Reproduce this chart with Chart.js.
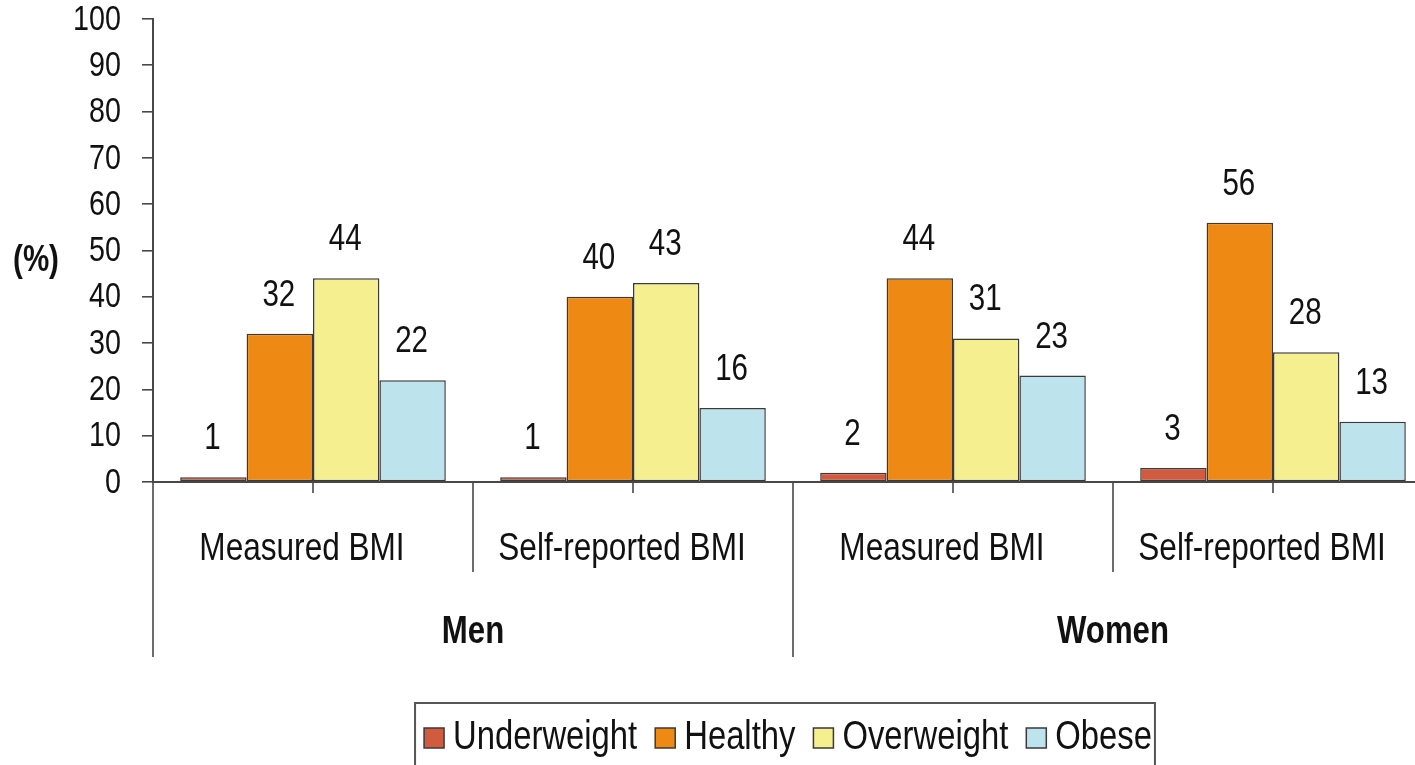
<!DOCTYPE html>
<html>
<head>
<meta charset="utf-8">
<script src="https://cdn.jsdelivr.net/npm/chart.js@4/dist/chart.umd.min.js"></script>
<style>
  html, body { margin: 0; padding: 0; background: #ffffff; overflow: hidden; }
  #wrap { position: relative; width: 1440px; height: 790px; }
</style>
</head>
<body>
<div id="wrap"><canvas id="c" width="1440" height="790"></canvas></div>
<script>
// BMI distribution by measurement method, men and women (%)
const categories = ['Measured BMI', 'Self-reported BMI', 'Measured BMI', 'Self-reported BMI'];
const groups = ['Men', 'Women'];
const seriesNames = ['Underweight', 'Healthy', 'Overweight', 'Obese'];
const underweight = [1, 1, 2, 3];
const healthy = [32, 40, 44, 56];
const overweight = [44, 43, 31, 28];
const obese = [22, 16, 23, 13];
const yTickValues = [0, 10, 20, 30, 40, 50, 60, 70, 80, 90, 100];
const yAxisLabel = '(%)';

const seriesColors = ['#d05b3e', '#ee8a14', '#f5ef90', '#bde3ec'];
const edgeColor = '#3a3a3a';
const axisColor = '#484848';
const textColor = '#111111';

// Narrow sans face; fall back to a horizontally squeezed regular face.
function fontAvailable(name) {
  const ctx = document.createElement('canvas').getContext('2d');
  const sample = 'Underweight Healthy 0123456789';
  ctx.font = '40px monospace';
  const a = ctx.measureText(sample).width;
  ctx.font = '40px "' + name + '", monospace';
  const b = ctx.measureText(sample).width;
  return Math.abs(a - b) > 0.5;
}
const NARROW = fontAvailable('Liberation Sans Narrow');
const FAMILY = NARROW ? '"Liberation Sans Narrow"' : '"Liberation Sans", Arial, sans-serif';
const SQUEEZE = NARROW ? 1 : 0.82;

function drawText(ctx, str, x, y, size, opts) {
  opts = opts || {};
  ctx.save();
  ctx.font = (opts.bold ? 'bold ' : '') + size + 'px ' + FAMILY;
  ctx.fillStyle = textColor;
  ctx.textBaseline = opts.baseline || 'middle';
  ctx.textAlign = opts.align || 'center';
  ctx.translate(x, y);
  ctx.scale(SQUEEZE, 1);
  ctx.fillText(str, 0, 0);
  ctx.restore();
}
function textWidth(ctx, str, size, bold) {
  ctx.save();
  ctx.font = (bold ? 'bold ' : '') + size + 'px ' + FAMILY;
  const w = ctx.measureText(str).width * SQUEEZE;
  ctx.restore();
  return w;
}
function line(ctx, x1, y1, x2, y2, color, w) {
  ctx.save();
  ctx.strokeStyle = color;
  ctx.lineWidth = w;
  ctx.beginPath();
  ctx.moveTo(x1, y1);
  ctx.lineTo(x2, y2);
  ctx.stroke();
  ctx.restore();
}

const seriesData = [underweight, healthy, overweight, obese];

const decorations = {
  id: 'decorations',
  afterDraw(chart) {
    const ctx = chart.ctx;
    const xs = chart.scales.x;
    const ys = chart.scales.y;
    const base = chart.chartArea.bottom;
    const step = xs.getPixelForValue(1) - xs.getPixelForValue(0);
    const half = step / 2;

    // y tick labels
    ys.ticks.forEach(t => {
      drawText(ctx, String(t.value), xs.left - 32, ys.getPixelForValue(t.value) + 1, 35, { align: 'right' });
    });
    drawText(ctx, yAxisLabel, 36, 261, 36, { bold: true });

    // category ticks, separators and labels
    categories.forEach((label, i) => {
      const cx = xs.getPixelForValue(i);
      line(ctx, cx, base, cx, base + 11, axisColor, 1.6);
      const left = cx - half;
      const groupStart = i % 2 === 0;
      line(ctx, left, base, left, groupStart ? 657 : 572, axisColor, 1.6);
      drawText(ctx, label, cx - 11, 549, 38.5);
    });
    const lastRight = xs.getPixelForValue(categories.length - 1) + half;
    line(ctx, lastRight, base, lastRight, 657, axisColor, 1.6);

    groups.forEach((g, gi) => {
      const gx = (xs.getPixelForValue(gi * 2) + xs.getPixelForValue(gi * 2 + 1)) / 2;
      drawText(ctx, g, gx, 633, 38, { bold: true });
    });

    // value labels above bars
    chart.data.datasets.forEach((ds, di) => {
      const meta = chart.getDatasetMeta(di);
      meta.data.forEach((bar, i) => {
        drawText(ctx, String(ds.data[i]), bar.x - 1, bar.y - 28, 36, { baseline: 'alphabetic' });
      });
    });

    // legend in a framed box
    const size = 40, box = 20, gapText = 9, gapItem = 18;
    const widths = chart.data.datasets.map(ds => textWidth(ctx, ds.label, size));
    const total = widths.reduce((s, w) => s + box + gapText + w, 0) + gapItem * (widths.length - 1);
    const centre = 788;
    let x = centre - total / 2;
    const cy = 738;
    ctx.save();
    ctx.strokeStyle = '#555555';
    ctx.lineWidth = 2;
    ctx.strokeRect(x - 9, 703, total + 12, 120);
    ctx.restore();
    chart.data.datasets.forEach((ds, di) => {
      ctx.save();
      ctx.fillStyle = ds.backgroundColor;
      ctx.fillRect(x, cy - box / 2, box, box);
      ctx.strokeStyle = edgeColor;
      ctx.lineWidth = 1.5;
      ctx.strokeRect(x, cy - box / 2, box, box);
      ctx.restore();
      drawText(ctx, ds.label, x + box + gapText, cy, size, { align: 'left' });
      x += box + gapText + widths[di] + gapItem;
    });
  }
};

new Chart(document.getElementById('c'), {
  type: 'bar',
  data: {
    labels: categories,
    datasets: seriesNames.map((name, i) => ({
      label: name,
      data: seriesData[i],
      backgroundColor: seriesColors[i],
      borderColor: edgeColor,
      borderWidth: 1.5,
      borderSkipped: false,
      categoryPercentage: 0.83,
      barPercentage: 1.0
    }))
  },
  options: {
    responsive: false,
    animation: false,
    devicePixelRatio: 1,
    layout: { padding: { top: 19, right: 7, left: 0, bottom: 0 } },
    plugins: { legend: { display: false }, tooltip: { enabled: false } },
    scales: {
      x: {
        type: 'category',
        offset: true,
        grid: { display: false },
        border: { display: true, color: axisColor, width: 2 },
        ticks: { display: false },
        afterFit(scale) { scale.height = 790 - 482; }
      },
      y: {
        min: 0,
        max: 100,
        afterBuildTicks(scale) { scale.ticks = yTickValues.map(v => ({ value: v })); },
        ticks: { display: false },
        grid: { drawOnChartArea: false, drawTicks: true, tickLength: 11, color: axisColor, lineWidth: 1.6 },
        border: { display: true, color: axisColor, width: 2 },
        afterFit(scale) { scale.width = 153; }
      }
    }
  },
  plugins: [decorations]
});
</script>
</body>
</html>
